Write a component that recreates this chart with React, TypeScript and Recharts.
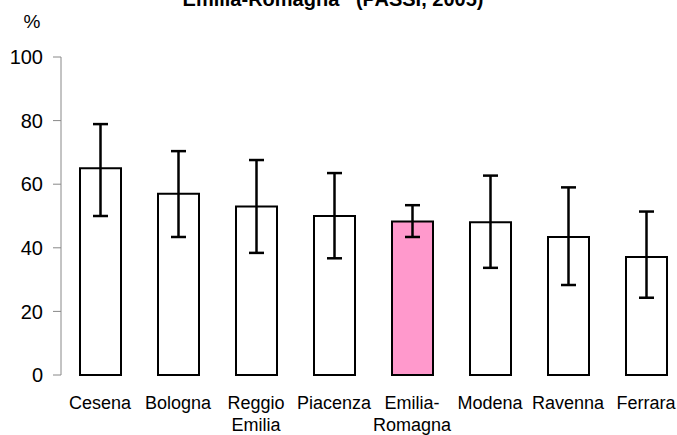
import React from 'react';
import { BarChart, Bar, XAxis, YAxis, Cell, ErrorBar } from 'recharts';

const categories = ['Cesena', 'Bologna', 'Reggio\nEmilia', 'Piacenza', 'Emilia-\nRomagna', 'Modena', 'Ravenna', 'Ferrara'];
const values = [65, 57, 53, 50, 48.3, 48, 43.4, 37.1];
const lower = [50, 43.4, 38.4, 36.7, 43.4, 33.7, 28.3, 24.3];
const upper = [78.9, 70.4, 67.6, 63.5, 53.4, 62.7, 59, 51.4];
const yTicks = [0, 20, 40, 60, 80, 100];
const highlight = 'Emilia-\nRomagna';

const data = categories.map((name, i) => ({
  name,
  value: values[i],
  err: [values[i] - lower[i], upper[i] - values[i]],
}));

const FONT = 'Liberation Sans, Arial, sans-serif';

function CategoryTick(props: any) {
  const { x, y, payload } = props;
  const lines = String(payload.value).split('\n');
  return (
    <text x={x} y={y} textAnchor="middle" fontSize={18} fontFamily={FONT} fill="#000">
      {lines.map((l, i) => (
        <tspan key={i} x={x} dy={i === 0 ? 34 : 22}>
          {l}
        </tspan>
      ))}
    </text>
  );
}

export default function App() {
  return (
    <div style={{ position: 'absolute', left: 0, top: 0, width: 677, height: 435, overflow: 'hidden', background: '#fff' }}>
      <BarChart width={700} height={435} data={data} margin={{ top: 57, right: 15, left: 0, bottom: 0 }}>
        <text x={333} y={5.5} textAnchor="middle" fontSize={20} fontWeight="bold" fontFamily={FONT} style={{ whiteSpace: 'pre' }} fill="#000">
          {'Emilia-Romagna   (PASSI, 2005)'}
        </text>
        <text x={32} y={28} textAnchor="middle" fontSize={19} fontFamily={FONT} fill="#000">
          %
        </text>
        <XAxis
          dataKey="name"
          axisLine={false}
          tickLine={false}
          tickSize={0}
          tickMargin={0}
          interval={0}
          height={60}
          tick={<CategoryTick />}
        />
        <YAxis
          width={61}
          domain={[0, 100]}
          ticks={yTicks}
          interval={0}
          axisLine={{ stroke: '#888', strokeWidth: 1 }}
          tickLine={{ stroke: '#888', strokeWidth: 1 }}
          tickSize={8}
          tickMargin={10}
          tick={{ fill: '#000', fontSize: 20, fontFamily: FONT }}
        />
        <Bar dataKey="value" barSize={41} stroke="#000" strokeWidth={2} isAnimationActive={false}>
          {data.map((d) => (
            <Cell key={d.name} fill={d.name === highlight ? '#FF99CC' : '#FFFFFF'} />
          ))}
          <ErrorBar dataKey="err" width={7.5} stroke="#000" strokeWidth={2.5} direction="y" />
        </Bar>
      </BarChart>
    </div>
  );
}
